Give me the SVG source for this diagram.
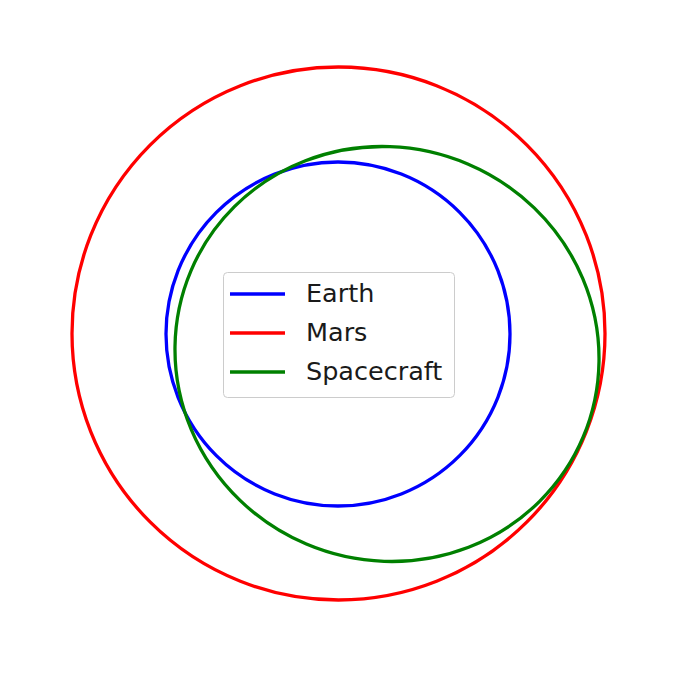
<svg xmlns="http://www.w3.org/2000/svg" width="677" height="673" viewBox="0 0 677 673">
<style>
.orbit{fill:none;stroke-width:3.3}
.lbl{font-family:"DejaVu Sans",sans-serif;font-size:25.5px;fill:#1a1a1a}
.key{stroke-width:3.3;fill:none}
</style>
<rect width="677" height="673" fill="#fff"/>
<g id="connectors"/>
<g id="mars"><circle class="orbit" cx="338.5" cy="333.5" r="266.5" stroke="#ff0000"/></g>
<g id="earth"><circle class="orbit" cx="338" cy="334" r="172" stroke="#0000ff"/></g>
<g id="spacecraft"><ellipse class="orbit" cx="387" cy="354" rx="213" ry="206.5" stroke="#008000" transform="rotate(23 387 354)"/></g>
<g id="legend">
<rect x="223.5" y="272.5" width="231" height="125" rx="4" fill="#fff" fill-opacity="0.8" stroke="#cccccc" stroke-width="1"/>
<line class="key" x1="230" y1="294" x2="285" y2="294" stroke="#0000ff"/>
<line class="key" x1="230" y1="333" x2="285" y2="333" stroke="#ff0000"/>
<line class="key" x1="230" y1="372" x2="285" y2="372" stroke="#008000"/>
<text class="lbl" x="306" y="302">Earth</text>
<text class="lbl" x="306" y="341">Mars</text>
<text class="lbl" x="306" y="380">Spacecraft</text>
</g>
</svg>
